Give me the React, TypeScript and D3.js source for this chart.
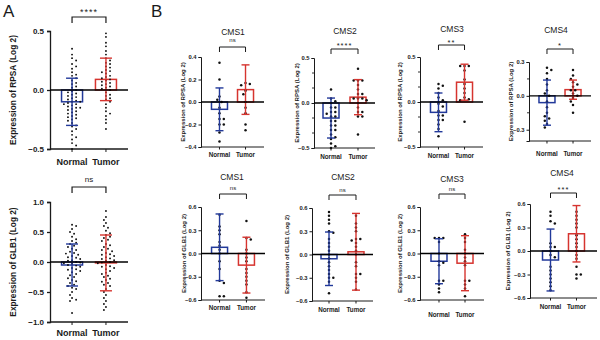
import { useEffect, useRef } from 'react';
import * as d3 from 'd3';

const groups = ['Normal', 'Tumor'];
const subtypes = ['CMS1', 'CMS2', 'CMS3', 'CMS4'];

// RPSA expression (log2), all samples then CMS1..CMS4
const rpsaAllNormal = [0.35, 0.3, 0.27, 0.25, 0.22, 0.2, 0.18, 0.15, 0.13, 0.12, 0.1, 0.08, 0.06, 0.05, 0.03, 0.02, 0.0, -0.01, -0.02, -0.03, -0.04, -0.05, -0.06, -0.07, -0.08, -0.09, -0.1, -0.1, -0.11, -0.12, -0.12, -0.13, -0.14, -0.15, -0.15, -0.16, -0.17, -0.18, -0.19, -0.2, -0.21, -0.22, -0.23, -0.24, -0.25, -0.26, -0.28, -0.3, -0.31, -0.33, -0.35, -0.38, -0.4, -0.42, -0.45, -0.47, -0.5];
const rpsaAllTumor = [0.48, 0.45, 0.4, 0.37, 0.33, 0.3, 0.27, 0.25, 0.23, 0.22, 0.2, 0.19, 0.17, 0.16, 0.15, 0.14, 0.12, 0.11, 0.1, 0.09, 0.08, 0.07, 0.06, 0.05, 0.04, 0.03, 0.02, 0.01, 0.0, -0.02, -0.04, -0.05, -0.07, -0.08, -0.1, -0.12, -0.15, -0.18, -0.2, -0.22, -0.25, -0.28, -0.33];
const rpsaCms1Normal = [0.35, 0.2, 0.05, 0.02, 0.0, -0.05, -0.1, -0.15, -0.15, -0.2, -0.2, -0.27, -0.35];
const rpsaCms1Tumor = [0.17, 0.16, 0.15, 0.1, 0.07, 0.0, -0.05, -0.1, -0.2, -0.25];
const rpsaCms2Normal = [0.15, 0.05, 0.02, 0.0, -0.05, -0.05, -0.1, -0.1, -0.12, -0.15, -0.15, -0.2, -0.2, -0.25, -0.25, -0.3, -0.3, -0.35, -0.38, -0.4, -0.45, -0.48, -0.5];
const rpsaCms2Tumor = [0.38, 0.25, 0.25, 0.25, 0.2, 0.15, 0.1, 0.1, 0.05, 0.05, 0.05, 0.03, 0.0, -0.05, -0.1, -0.1, -0.15, -0.15, -0.35];
const rpsaCms3Normal = [0.2, 0.18, 0.15, 0.1, 0.05, 0.02, -0.02, -0.05, -0.1, -0.15, -0.15, -0.2, -0.2, -0.25, -0.3, -0.38];
const rpsaCms3Tumor = [0.4, 0.4, 0.4, 0.35, 0.25, 0.2, 0.15, 0.1, 0.05, 0.03, 0.02, -0.22];
const rpsaCms4Normal = [0.25, 0.23, 0.2, 0.15, 0.1, 0.05, 0.02, 0.0, -0.05, -0.1, -0.15, -0.18, -0.2, -0.22, -0.25, -0.28];
const rpsaCms4Tumor = [0.23, 0.18, 0.15, 0.12, 0.1, 0.08, 0.05, 0.05, 0.02, 0.0, -0.02, -0.05, -0.08, -0.15];

const rpsaMeans = [[-0.1, 0.09], [-0.065, 0.11], [-0.167, 0.065], [-0.115, 0.22], [-0.06, 0.055]];
const rpsaSd = [[0.2, 0.18], [0.19, 0.22], [0.222, 0.195], [0.215, 0.2], [0.2, 0.085]];
const rpsaSig = ['****', 'ns', '****', '**', '*'];
const rpsaDomains = [[-0.5, 0.5], [-0.4, 0.4], [-0.5, 0.5], [-0.5, 0.5], [-0.4, 0.3]];
const rpsaTicks = [[-0.5, 0, 0.5], [-0.4, -0.2, 0, 0.2, 0.4], [-0.5, 0, 0.5], [-0.5, 0, 0.5], [-0.3, 0, 0.3]];
const rpsaMinorTicks = [[], [], [-1 / 3, -1 / 6, 1 / 6, 1 / 3], [-1 / 3, -1 / 6, 1 / 6, 1 / 3], [-0.15, 0.15]];

// GLB1 expression (log2), all samples then CMS1..CMS4
const glb1AllNormal = [0.62, 0.6, 0.55, 0.5, 0.47, 0.42, 0.38, 0.35, 0.32, 0.3, 0.27, 0.25, 0.22, 0.2, 0.17, 0.15, 0.14, 0.12, 0.1, 0.08, 0.07, 0.05, 0.03, 0.02, 0.0, -0.01, -0.02, -0.03, -0.05, -0.06, -0.08, -0.1, -0.12, -0.13, -0.15, -0.17, -0.2, -0.22, -0.25, -0.27, -0.3, -0.32, -0.35, -0.38, -0.4, -0.43, -0.45, -0.5, -0.55, -0.6, -0.63, -0.65, -0.85];
const glb1AllTumor = [0.85, 0.75, 0.7, 0.65, 0.6, 0.57, 0.52, 0.48, 0.45, 0.42, 0.4, 0.37, 0.35, 0.3, 0.28, 0.25, 0.22, 0.2, 0.18, 0.15, 0.13, 0.12, 0.1, 0.08, 0.06, 0.05, 0.03, 0.02, 0.0, -0.01, -0.02, -0.05, -0.07, -0.08, -0.1, -0.12, -0.15, -0.18, -0.2, -0.23, -0.25, -0.28, -0.3, -0.33, -0.35, -0.38, -0.4, -0.45, -0.5, -0.55, -0.6, -0.65, -0.7, -0.75, -0.8];
const glb1Cms1Normal = [0.5, 0.35, 0.3, 0.25, 0.15, 0.1, 0.05, 0.0, -0.1, -0.2, -0.35, -0.38, -0.55, -0.55];
const glb1Cms1Tumor = [0.42, 0.2, 0.18, 0.05, 0.0, -0.05, -0.1, -0.2, -0.25, -0.3, -0.35, -0.4, -0.5, -0.57];
const glb1Cms2Normal = [0.55, 0.5, 0.45, 0.4, 0.3, 0.28, 0.2, 0.15, 0.1, 0.05, 0.0, -0.05, -0.1, -0.15, -0.2, -0.25, -0.3, -0.3, -0.35, -0.5];
const glb1Cms2Tumor = [0.5, 0.4, 0.35, 0.3, 0.2, 0.2, 0.18, 0.15, 0.1, 0.05, 0.0, -0.1, -0.15, -0.25, -0.25, -0.3, -0.35, -0.45];
const glb1Cms3Normal = [0.2, 0.2, 0.2, 0.15, 0.0, -0.1, -0.12, -0.15, -0.35, -0.35, -0.4, -0.45, -0.5];
const glb1Cms3Tumor = [0.25, 0.2, 0.15, 0.05, 0.0, -0.05, -0.1, -0.15, -0.35, -0.35, -0.4, -0.45, -0.55];
const glb1Cms4Normal = [0.5, 0.45, 0.38, 0.35, 0.1, 0.05, 0.05, 0.0, -0.05, -0.08, -0.2, -0.25, -0.3, -0.35, -0.4, -0.45, -0.5];
const glb1Cms4Tumor = [0.5, 0.45, 0.4, 0.35, 0.3, 0.2, 0.15, 0.1, 0.05, 0.0, -0.05, -0.1, -0.2, -0.3, -0.3, -0.35];

const glb1Means = [[-0.05, -0.015], [0.08, -0.15], [-0.055, 0.035], [-0.1, -0.125], [-0.115, 0.22]];
const glb1Sd = [[0.35, 0.465], [0.43, 0.36], [0.345, 0.495], [0.29, 0.355], [0.395, 0.36]];
const glb1Sig = ['ns', 'ns', 'ns', 'ns', '***'];
const glb1Domains = [[-1, 1], [-0.6, 0.6], [-0.6, 0.6], [-0.6, 0.6], [-0.6, 0.6]];
const glb1Ticks = [[-1, -0.5, 0, 0.5, 1], [-0.6, -0.3, 0, 0.3, 0.6], [-0.6, -0.3, 0, 0.3, 0.6], [-0.6, -0.3, 0, 0.3, 0.6], [-0.6, -0.3, 0, 0.3, 0.6]];

const rpsaPoints = [
  [rpsaAllNormal, rpsaAllTumor],
  [rpsaCms1Normal, rpsaCms1Tumor],
  [rpsaCms2Normal, rpsaCms2Tumor],
  [rpsaCms3Normal, rpsaCms3Tumor],
  [rpsaCms4Normal, rpsaCms4Tumor],
];
const glb1Points = [
  [glb1AllNormal, glb1AllTumor],
  [glb1Cms1Normal, glb1Cms1Tumor],
  [glb1Cms2Normal, glb1Cms2Tumor],
  [glb1Cms3Normal, glb1Cms3Tumor],
  [glb1Cms4Normal, glb1Cms4Tumor],
];

// plot frames: first one is the big panel A, rest are the B subtypes
const rpsaFrames = [
  { x0: 50, x1: 128, top: 31, bottom: 149, pad: 0.65, titleX: 0, titleY: 0, sigY: 10, bracketY: 17, xLabY: 162, yLabX: 13 },
  { x0: 201, x1: 264, top: 57, bottom: 147, pad: 0.71, titleX: 233, titleY: 32, sigY: 40, bracketY: 47, xLabY: 155, yLabX: 183 },
  { x0: 314, x1: 375, top: 58, bottom: 148, pad: 0.63, titleX: 345, titleY: 31, sigY: 43, bracketY: 49, xLabY: 157, yLabX: 297 },
  { x0: 420, x1: 483, top: 57, bottom: 147, pad: 0.71, titleX: 452, titleY: 29, sigY: 40, bracketY: 45, xLabY: 156, yLabX: 400 },
  { x0: 529, x1: 591, top: 62, bottom: 141, pad: 0.69, titleX: 556, titleY: 30, sigY: 43, bracketY: 49, xLabY: 154, yLabX: 511 },
];
const glb1Frames = [
  { x0: 50, x1: 128, top: 202, bottom: 322, pad: 0.65, titleX: 0, titleY: 0, sigY: 179, bracketY: 187, xLabY: 333, yLabX: 13 },
  { x0: 201, x1: 265, top: 207, bottom: 300, pad: 0.69, titleX: 232, titleY: 177, sigY: 188, bracketY: 194, xLabY: 308, yLabX: 184 },
  { x0: 312, x1: 373, top: 208, bottom: 301, pad: 0.63, titleX: 343, titleY: 177, sigY: 190, bracketY: 195, xLabY: 310, yLabX: 287 },
  { x0: 420, x1: 484, top: 207, bottom: 300, pad: 0.73, titleX: 452, titleY: 179, sigY: 189, bracketY: 194, xLabY: 315, yLabX: 400 },
  { x0: 530, x1: 597, top: 204, bottom: 298, pad: 0.79, titleX: 562, titleY: 173, sigY: 187, bracketY: 193, xLabY: 307, yLabX: 508 },
];

const colors = { Normal: '#22399a', Tumor: '#d6342f' };
const font = '"Liberation Sans", Arial, sans-serif';
const ink = '#1a1a1a';

// spread points sideways so they don't overlap, like a prism scatter
function swarm(values, y, cx, spacing) {
  const placed = [];
  const order = values.map((_, i) => i).sort((a, b) => values[b] - values[a]);
  const step = spacing * 0.6;
  const offsets = [0];
  for (let k = 1; k < 14; k++) {
    const sign = k % 2 ? -1 : 1;
    offsets.push(sign * k * step, -sign * k * step);
  }
  return order.map(i => {
    const py = y(values[i]);
    let dx = 0;
    for (const o of offsets) {
      if (placed.every(p => (p.x - o) ** 2 + (p.y - py) ** 2 >= spacing * spacing)) {
        dx = o;
        break;
      }
    }
    placed.push({ x: dx, y: py });
    return { x: cx + dx, y: py };
  });
}

function drawPanel(svg, opts) {
  const { frame, domain, ticks, minor, means, sd, points, sig, title, yLabel, big } = opts;
  const g = svg.append('g');
  const y = d3.scaleLinear().domain(domain).range([frame.bottom, frame.top]);
  const x = d3.scalePoint().domain(groups).range([frame.x0, frame.x1]).padding(frame.pad);

  const tickFont = big ? 8 : 5.8;
  const barW = big ? 21 : 16;
  const capW = big ? 12 : 8;
  const dotR = big ? 0.95 : 1.25;

  // y axis
  const yAxis = d3.axisLeft(y).tickValues(ticks).tickSize(big ? 3 : 2.5).tickPadding(big ? 3 : 2).tickFormat(d3.format('.1f'));
  const ag = g.append('g').attr('transform', `translate(${frame.x0},0)`).call(yAxis);
  ag.select('.domain').attr('stroke', ink).attr('stroke-width', big ? 1.3 : 1);
  ag.selectAll('.tick line').attr('stroke', ink).attr('stroke-width', big ? 1.3 : 1);
  ag.selectAll('.tick text')
    .attr('fill', ink)
    .style('font-family', font)
    .style('font-size', `${tickFont}px`)
    .style('font-weight', 'bold');
  ag.selectAll('.minor')
    .data(minor)
    .enter()
    .append('line')
    .attr('x1', -2)
    .attr('x2', 0)
    .attr('y1', d => y(d))
    .attr('y2', d => y(d))
    .attr('stroke', ink)
    .attr('stroke-width', 0.9);

  // x axis at the bottom with category ticks
  g.append('line')
    .attr('x1', frame.x0)
    .attr('x2', frame.x1)
    .attr('y1', frame.bottom)
    .attr('y2', frame.bottom)
    .attr('stroke', ink)
    .attr('stroke-width', big ? 1.3 : 1);
  groups.forEach(k => {
    g.append('line')
      .attr('x1', x(k))
      .attr('x2', x(k))
      .attr('y1', frame.bottom)
      .attr('y2', frame.bottom + (big ? 3 : 2.5))
      .attr('stroke', ink)
      .attr('stroke-width', 1);
    g.append('text')
      .attr('x', x(k))
      .attr('y', frame.xLabY)
      .attr('dy', '0.35em')
      .attr('text-anchor', 'middle')
      .attr('fill', ink)
      .style('font-family', font)
      .style('font-size', big ? '9px' : '6.3px')
      .style('font-weight', 'bold')
      .text(k);
  });

  // y label
  g.append('text')
    .attr('transform', `translate(${frame.yLabX},${(frame.top + frame.bottom) / 2}) rotate(-90)`)
    .attr('dy', '0.35em')
    .attr('text-anchor', 'middle')
    .attr('fill', ink)
    .style('font-family', font)
    .style('font-size', big ? '8.3px' : '6px')
    .style('font-weight', 'bold')
    .text(yLabel);

  // bars
  groups.forEach((k, i) => {
    const y0 = y(0);
    const y1 = y(means[i]);
    g.append('rect')
      .attr('x', x(k) - barW / 2)
      .attr('y', Math.min(y0, y1))
      .attr('width', barW)
      .attr('height', Math.abs(y1 - y0))
      .attr('fill', 'none')
      .attr('stroke', colors[k])
      .attr('stroke-width', 1.5);
  });

  // individual samples
  groups.forEach((k, i) => {
    const pts = swarm(points[i], y, x(k), big ? 3.4 : 3.6);
    g.selectAll(null)
      .data(pts)
      .enter()
      .append('circle')
      .attr('cx', d => d.x)
      .attr('cy', d => d.y)
      .attr('r', dotR)
      .attr('fill', '#111');
  });

  // error bars (mean ± SD)
  groups.forEach((k, i) => {
    const hi = y(means[i] + sd[i]);
    const lo = y(means[i] - sd[i]);
    const cx = x(k);
    const eg = g.append('g').attr('stroke', colors[k]).attr('stroke-width', 1.4);
    eg.append('line').attr('x1', cx).attr('x2', cx).attr('y1', hi).attr('y2', lo);
    eg.append('line').attr('x1', cx - capW / 2).attr('x2', cx + capW / 2).attr('y1', hi).attr('y2', hi);
    eg.append('line').attr('x1', cx - capW / 2).attr('x2', cx + capW / 2).attr('y1', lo).attr('y2', lo);
  });

  // zero line
  g.append('line')
    .attr('x1', frame.x0)
    .attr('x2', frame.x1)
    .attr('y1', y(0))
    .attr('y2', y(0))
    .attr('stroke', '#000')
    .attr('stroke-width', big ? 1.5 : 1.3);

  // significance bracket
  const drop = big ? 6 : 5;
  g.append('path')
    .attr('d', `M${x('Normal')},${frame.bracketY + drop}V${frame.bracketY}H${x('Tumor')}V${frame.bracketY + drop}`)
    .attr('fill', 'none')
    .attr('stroke', ink)
    .attr('stroke-width', big ? 1.2 : 1);
  const isStar = sig.includes('*');
  g.append('text')
    .attr('x', (x('Normal') + x('Tumor')) / 2)
    .attr('y', frame.sigY)
    .attr('dy', isStar ? '0.6em' : '0.35em')
    .attr('text-anchor', 'middle')
    .attr('fill', ink)
    .style('font-family', font)
    .style('font-size', isStar ? (big ? '9px' : '7.5px') : big ? '8px' : '6px')
    .style('letter-spacing', isStar ? '1px' : '0')
    .text(sig);

  if (title) {
    g.append('text')
      .attr('x', frame.titleX)
      .attr('y', frame.titleY)
      .attr('dy', '0.35em')
      .attr('text-anchor', 'middle')
      .attr('fill', ink)
      .style('font-family', font)
      .style('font-size', '8.5px')
      .text(title);
  }
}

export default function App() {
  const ref = useRef(null);

  useEffect(() => {
    const svg = d3.select(ref.current);
    svg.selectAll('*').remove();
    svg.append('rect').attr('width', 600).attr('height', 340).attr('fill', '#fff');

    for (let p = 0; p < 5; p++) {
      drawPanel(svg, {
        frame: rpsaFrames[p],
        domain: rpsaDomains[p],
        ticks: rpsaTicks[p],
        minor: rpsaMinorTicks[p],
        means: rpsaMeans[p],
        sd: rpsaSd[p],
        points: rpsaPoints[p],
        sig: rpsaSig[p],
        title: p ? subtypes[p - 1] : null,
        yLabel: 'Expression of RPSA (Log 2)',
        big: p === 0,
      });
      drawPanel(svg, {
        frame: glb1Frames[p],
        domain: glb1Domains[p],
        ticks: glb1Ticks[p],
        minor: [],
        means: glb1Means[p],
        sd: glb1Sd[p],
        points: glb1Points[p],
        sig: glb1Sig[p],
        title: p ? subtypes[p - 1] : null,
        yLabel: 'Expression of GLB1 (Log 2)',
        big: p === 0,
      });
    }

    // panel letters
    svg.append('text').attr('x', 3).attr('y', 17).style('font-family', font).style('font-size', '17px').attr('fill', ink).text('A');
    svg.append('text').attr('x', 151).attr('y', 17).style('font-family', font).style('font-size', '17px').attr('fill', ink).text('B');
  }, []);

  return <svg ref={ref} width={600} height={340} style={{ position: 'absolute', left: 0, top: 0 }} />;
}
